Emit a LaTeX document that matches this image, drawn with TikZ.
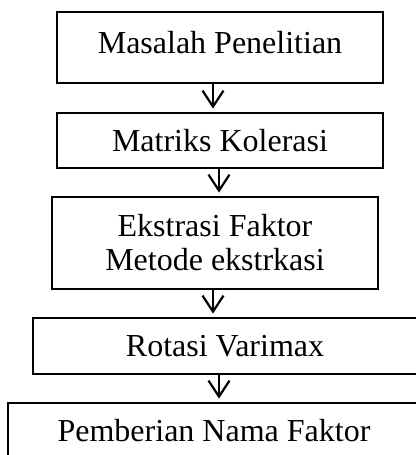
\documentclass[tikz,border=0pt]{standalone}
\usepackage{fontspec}
\setmainfont{Liberation Serif}
\usetikzlibrary{arrows.meta}
\begin{document}
\begin{tikzpicture}[x=0.5pt,y=-0.5pt,
	kotak/.style={draw=black,line width=1.4pt,inner sep=0pt,align=center,
		font=\fontsize{16}{17}\selectfont},
	panah/.style={line width=1.1pt,-{Straight Barb[length=8pt,width=10.5pt,line width=1.1pt]},shorten >=1.5pt}]
	\useasboundingbox (0,0) rectangle (416,455);
	\clip (0,0) rectangle (416,455);
	\node[kotak,
	minimum width=163pt,
	minimum height=35.5pt,
	text depth=5.5pt] (n1) at (220,47.5) {Masalah Penelitian};
	\node[kotak,
	minimum width=163pt,
	minimum height=27.5pt] (n2) at (220,140.5) {Matriks Kolerasi};
	\node[kotak,
	minimum width=163pt,
	minimum height=46pt] (n3) at (215,243) {Ekstrasi Faktor\\Metode ekstrkasi};
	\node[kotak,
	minimum width=192pt,
	minimum height=28pt] (n4) at (225,346) {Rotasi Varimax};
	\node[kotak,
	minimum width=206pt,
	minimum height=28pt] (n5) at (214,431) {Pemberian Nama Faktor};
	% panah antar tahap
	\draw[panah] ([xshift=-3.5pt]n1.south) -- ([xshift=-3.5pt]n1.south |- n2.north);
	\draw[panah] ([xshift=-0.5pt]n2.south) -- ([xshift=-0.5pt]n2.south |- n3.north);
	\draw[panah] ([xshift=-1pt]n3.south) -- ([xshift=-1pt]n3.south |- n4.north);
	\draw[panah] ([xshift=-3pt]n4.south) -- ([xshift=-3pt]n4.south |- n5.north);
\end{tikzpicture}
\end{document}
